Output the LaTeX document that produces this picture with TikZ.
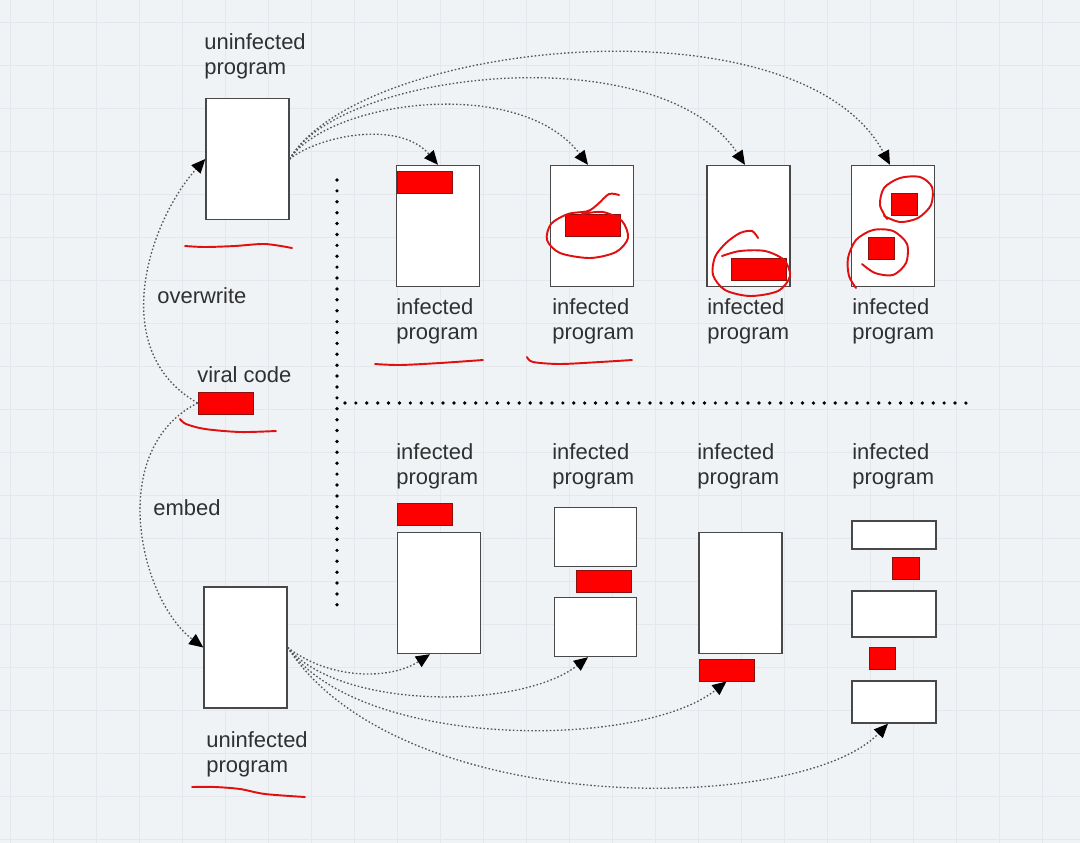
\documentclass[tikz,border=0pt]{standalone}
\usepackage{fontspec}
\setmainfont{Liberation Sans}
\usetikzlibrary{arrows.meta}
\definecolor{cbg}{HTML}{F0F3F6}
\definecolor{cgrid}{HTML}{E4E8EC}
\definecolor{cbox}{HTML}{484848}
\definecolor{cvir}{HTML}{FF0000}
\definecolor{cvirdk}{HTML}{8B1010}
\definecolor{cdot}{HTML}{555555}
\definecolor{cpen}{HTML}{E01010}
\definecolor{ctxt}{HTML}{303030}
\tikzset{
  prog/.style={draw=cbox, fill=white, line width=0.8pt, inner sep=0pt},
  tall/.style={prog, minimum width=1.66cm, minimum height=2.42cm},
  half/.style={prog, minimum width=1.64cm, minimum height=1.18cm},
  virus/.style={draw=cvirdk, fill=cvir, line width=0.5pt, inner sep=0pt, minimum width=1.1cm, minimum height=0.44cm},
  vbit/.style={virus, minimum width=0.53cm, minimum height=0.45cm},
  lbl/.style={font=\fontsize{12.5}{14.2}\selectfont, text=ctxt, align=left, inner sep=0pt},
  conn/.style={draw=cdot, line width=0.75pt, dash pattern=on 0.9pt off 1.2pt, -{Triangle[black, length=8pt, width=7pt]}},
  divider/.style={line width=2.1pt, line cap=round, dash pattern=on 0pt off 6.2pt},
  gridline/.style={cgrid, line width=0.5pt},
  scrawl/.style={draw=cpen, line width=1.1pt, line cap=round, line join=round},
}
\begin{document}
\begin{tikzpicture}[x=0.02cm,y=-0.02cm]
\useasboundingbox (0,0) rectangle (1080,843);
\fill[cbg] (0,0) rectangle (1080,843);
\foreach \gx in {10,53,...,1080} \draw[gridline] (\gx,0) -- (\gx,843);
\foreach \gy in {22,65,...,843} \draw[gridline] (0,\gy) -- (1080,\gy);

% left column
\node[tall] (srcup) at (247.5,159) {};
\node[lbl, anchor=north west] (srcuplbl) at (204,33) {uninfected\\program};
\node[virus] (viral) at (225.5,403) {};
\node[lbl, anchor=base west] (virallbl) at (197,382) {viral code};
\node[lbl, anchor=base west] (overlbl) at (157,303) {overwrite};
\node[lbl, anchor=base west] (embedlbl) at (153,515) {embed};
\node[tall] (srclow) at (245.5,647.5) {};
\node[lbl, anchor=north west] (srclowlbl) at (206,731) {uninfected\\program};

\draw[divider] (337,180) -- (337,610);
\draw[divider] (345,403) -- (970,403);

% overwriting viruses
\foreach \n/\x/\lx in {1/438/396, 2/592/552, 3/748.5/707, 4/893/852} {
  \node[tall] (top\n) at (\x,226) {};
  \node[lbl, anchor=north west] (top\n lbl) at (\lx,298) {infected\\program};
}
\node[virus] (topv1) at (425,182) {};
\node[virus] (topv2) at (592.5,225.5) {};
\node[virus] (topv3) at (759,269.5) {};
\node[vbit] (topv4a) at (904.5,204.5) {};
\node[vbit] (topv4b) at (881.5,248.5) {};

% embedding viruses
\foreach \n/\lx in {1/396, 2/552, 3/697, 4/852}
  \node[lbl, anchor=north west] (bot\n lbl) at (\lx,443) {infected\\program};
\node[virus] (botv1) at (424.5,514) {};
\node[tall] (bot1) at (439,593) {};
\node[half] (bot2a) at (595.5,537) {};
\node[virus] (botv2) at (603.5,581) {};
\node[half] (bot2b) at (595.5,627) {};
\node[tall] (bot3) at (740.5,593) {};
\node[virus] (botv3) at (726.5,670) {};
\node[prog, minimum width=1.68cm, minimum height=0.56cm] (bot4a) at (894,535) {};
\node[vbit] (botv4a) at (906,568.5) {};
\node[prog, minimum width=1.68cm, minimum height=0.92cm] (bot4b) at (894,614) {};
\node[vbit] (botv4b) at (882.5,658.5) {};
\node[prog, minimum width=1.68cm, minimum height=0.84cm] (bot4c) at (894,702) {};

% connectors
\draw[conn] (viral.west) .. controls (105,350) and (150,220) .. (srcup.west);
\draw[conn] (viral.west) .. controls (105,450) and (140,600) .. (srclow.west);
\draw[conn] (srcup.east) .. controls (320,135) and (400,120) .. (top1.north);
\draw[conn] (srcup.east) .. controls (330,100) and (520,75) .. ([xshift=-0.08cm]top2.north);
\draw[conn] (srcup.east) .. controls (340,70) and (660,35) .. ([xshift=-0.07cm]top3.north);
\draw[conn] (srcup.east) .. controls (360,40) and (800,-5) .. ([xshift=-0.06cm]top4.north);
\draw[conn] (srclow.east) .. controls (330,680) and (390,680) .. ([xshift=-0.18cm]bot1.south);
\draw[conn] (srclow.east) .. controls (340,710) and (520,710) .. ([xshift=-0.15cm]bot2b.south);
\draw[conn] (srclow.east) .. controls (360,750) and (640,750) .. (botv3.south);
\draw[conn] (srclow.east) .. controls (400,820) and (800,815) .. ([xshift=-0.12cm]bot4c.south);

% pen marks
\draw[scrawl] plot[smooth] coordinates {(185,246) (205,247) (235,246) (265,244) (292,248)};
\draw[scrawl] plot[smooth] coordinates {(180,419) (186,424) (205,429) (240,432) (276,431)};
\draw[scrawl] plot[smooth] coordinates {(192,787) (215,787) (240,789) (265,794) (305,797)};
\draw[scrawl] plot[smooth] coordinates {(375,364) (400,365) (440,363) (483,360)};
\draw[scrawl] plot[smooth] coordinates {(527,357) (533,362) (560,364) (600,362) (632,360)};
\draw[scrawl] plot[smooth] coordinates {(619,195) (609,194) (598,204) (588,211) (568,214) (551,224) (547,240) (560,253) (590,258) (616,252) (628,238) (622,221) (603,212) (582,214)};
\draw[scrawl] plot[smooth] coordinates {(758,238) (752,231) (740,233) (726,243) (715,257) (713,275) (725,290) (750,296) (778,291) (790,276) (784,260) (765,251) (740,251) (722,256)};
\draw[scrawl] plot[smooth] coordinates {(887,219) (880,205) (884,188) (900,178) (920,177) (932,187) (931,205) (918,218) (900,222) (884,216)};
\draw[scrawl] plot[smooth] coordinates {(862,264) (875,273) (893,275) (906,263) (907,244) (893,231) (873,230) (856,240) (848,258) (849,276) (856,288)};
\end{tikzpicture}
\end{document}
